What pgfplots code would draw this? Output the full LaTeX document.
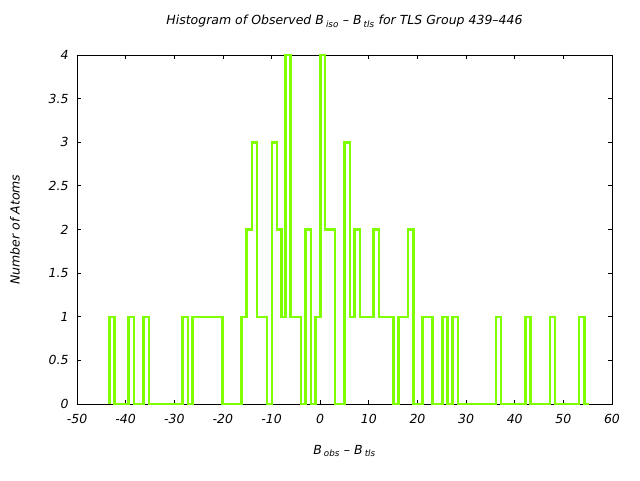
\documentclass[border=0pt]{standalone}
\usepackage{fontspec}
\setmainfont{DejaVu Sans}
\usepackage{pgfplots}
\pgfplotsset{compat=1.18}
\definecolor{histgreen}{HTML}{7FFF00}
\begin{document}
\begin{tikzpicture}
\begin{axis}[
  at={(0,0)}, anchor=south west,
  scale only axis, width=535pt, height=349pt,
  xmin=-50, xmax=60, ymin=0, ymax=4,
  xtick={-50,-40,...,60},
  ytick={0,0.5,1,1.5,2,2.5,3,3.5,4},
  tick pos=both, tick align=inside,
  major tick length=4pt,
  axis line style={line width=0.8pt},
  every tick/.style={black, line width=0.8pt},
  /pgf/number format/assume math mode=true,
  /pgf/number format/fixed,
  ticklabel style={font=\fontsize{12.5}{14}\selectfont\itshape},
  xticklabel style={yshift=-7pt},
  yticklabel style={xshift=-5pt},
  label style={font=\fontsize{12.5}{14}\selectfont\itshape},
  title style={font=\fontsize{12.5}{14}\selectfont\itshape, at={(axis description cs:0.5,1.080)}, anchor=center},
  xlabel style={at={(axis description cs:0.5,-0.1347)}, anchor=center},
  ylabel style={at={(axis description cs:-0.1159,0.5)}, anchor=center, rotate=0},
  title={Histogram of Observed B\,\textsubscript{iso} -- B\,\textsubscript{tls} for TLS Group 439--446},
  xlabel={B\,\textsubscript{obs} -- B\,\textsubscript{tls}},
  ylabel={Number of Atoms},
  clip=false,
]
\addplot[const plot, histgreen, line width=2.5pt] coordinates {
(-43.3,0) (-43.3,1) (-42.3,0) (-39.4,1) (-38.3,0) (-36.3,1) (-35.2,0)
(-28.3,1) (-27.2,0) (-26.3,1) (-20.1,0) (-16.2,1) (-15.1,2) (-14.0,3)
(-13.0,1) (-10.9,0) (-9.9,3) (-8.9,2) (-8.0,1) (-7.1,4) (-6.1,1)
(-3.9,0) (-3.0,2) (-1.9,0) (-0.96,1) (0.07,4) (0.96,2) (3.0,0)
(5.0,3) (6.1,1) (7.04,2) (8.15,1) (11.0,2) (12.1,1) (15.1,0)
(16.1,1) (18.1,2) (19.2,0) (21.0,1) (23.1,0) (25.1,1) (26.2,0)
(27.2,1) (28.3,0) (36.1,1) (37.2,0) (42.2,1) (43.2,0) (47.3,1)
(48.3,0) (53.2,1) (54.3,0) (55.3,0)
};
\end{axis}
\path[use as bounding box] (-77pt,-76pt) rectangle (563pt,404pt);
\end{tikzpicture}
\end{document}
